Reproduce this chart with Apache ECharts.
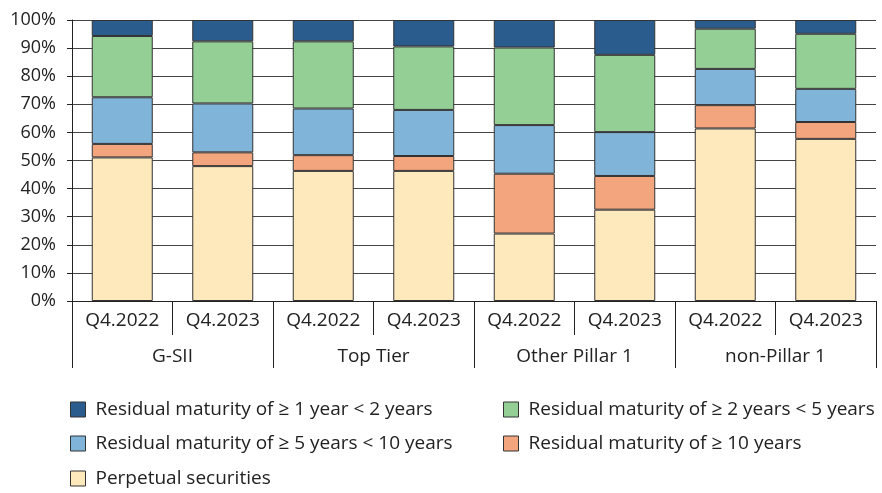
<!DOCTYPE html>
<html>
<head>
<meta charset="utf-8">
<script src="https://cdn.jsdelivr.net/npm/echarts@6/dist/echarts.min.js"></script>
<style>
html,body{margin:0;padding:0;background:#fff;}
#chart{width:882px;height:493px;}
</style>
</head>
<body>
<div id="chart"></div>
<script>
const categories = ['Q4.2022','Q4.2023','Q4.2022','Q4.2023','Q4.2022','Q4.2023','Q4.2022','Q4.2023'];
const groups = ['G-SII','Top Tier','Other Pillar 1','non-Pillar 1'];
const yTicks = [0,10,20,30,40,50,60,70,80,90,100];

const seriesNames = [
  'Residual maturity of ≥ 1 year < 2 years',
  'Residual maturity of ≥ 2 years < 5 years',
  'Residual maturity of ≥ 5 years < 10 years',
  'Residual maturity of ≥ 10 years',
  'Perpetual securities'
];
const perpetual = [51.1, 48.0, 46.3, 46.3, 24.0, 32.5, 61.4, 57.7];
const over10 = [4.8, 4.9, 5.6, 5.3, 21.3, 12.0, 8.3, 6.0];
const y5to10 = [16.6, 17.4, 16.6, 16.4, 17.3, 15.6, 12.9, 11.8];
const y2to5 = [21.8, 22.1, 23.9, 22.6, 27.6, 27.5, 14.3, 19.6];
const y1to2 = [5.7, 7.6, 7.6, 9.4, 9.8, 12.4, 3.1, 4.9];

const colors = {
  y1to2: '#2a5d8e',
  y2to5: '#94cf96',
  y5to10: '#80b4d9',
  over10: '#f3a67d',
  perpetual: '#fee9bd'
};

const FONT = '"Open Sans", sans-serif';
const TXT = '#222';

function bar(name, data, color) {
  return {
    name: name, type: 'bar', stack: 'total', data: data,
    barWidth: 61,
    itemStyle: { color: color, borderColor: '#333', borderWidth: 1 }
  };
}

const series = [
  bar(seriesNames[4], perpetual, colors.perpetual),
  bar(seriesNames[3], over10, colors.over10),
  bar(seriesNames[2], y5to10, colors.y5to10),
  bar(seriesNames[1], y2to5, colors.y2to5),
  bar(seriesNames[0], y1to2, colors.y1to2)
];

function legendItem(name, left, top) {
  return {
    data: [name], left: left, top: top, orient: 'horizontal',
    itemWidth: 15, itemHeight: 15, itemGap: 10, padding: 0,
    icon: 'rect', selectedMode: false,
    itemStyle: { borderColor: '#333', borderWidth: 1 },
    textStyle: { fontFamily: FONT, fontSize: 19, color: TXT, padding: [0,0,0,5] }
  };
}

const chart = echarts.init(document.getElementById('chart'), null, { renderer: 'canvas' });
chart.setOption({
  animation: false,
  textStyle: { fontFamily: FONT },
  grid: { left: 72, right: 6, top: 20, bottom: 192, containLabel: false },
  legend: [
    legendItem(seriesNames[0], 70, 400),
    legendItem(seriesNames[1], 503, 400),
    legendItem(seriesNames[2], 70, 434),
    legendItem(seriesNames[3], 503, 434),
    legendItem(seriesNames[4], 70, 469)
  ],
  xAxis: [
    {
      type: 'category', data: categories, position: 'bottom',
      axisLine: { show: true, lineStyle: { color: '#222', width: 1 } },
      axisTick: { show: true, interval: 0, length: 34, lineStyle: { color: '#222', width: 1 } },
      axisLabel: { interval: 0, margin: 10, fontFamily: FONT, fontSize: 19, color: TXT },
      splitLine: { show: false }
    },
    {
      type: 'category', data: groups, position: 'bottom',
      axisLine: { show: false },
      axisTick: { show: true, interval: 0, length: 67, lineStyle: { color: '#222', width: 1 } },
      axisLabel: { interval: 0, margin: 46, fontFamily: FONT, fontSize: 19, color: TXT },
      splitLine: { show: false }
    }
  ],
  yAxis: {
    type: 'value', min: 0, max: 100, interval: 10,
    axisLine: { show: true, lineStyle: { color: '#222', width: 1 } },
    axisTick: { show: true, length: 5, lineStyle: { color: '#222' } },
    axisLabel: {
      margin: 16, fontFamily: FONT, fontSize: 18, color: TXT,
      formatter: function (v) { return yTicks.indexOf(v) >= 0 ? v + '%' : ''; }
    },
    splitLine: { show: true, lineStyle: { color: '#444', width: 1 } }
  },
  series: series
});
</script>
</body>
</html>
